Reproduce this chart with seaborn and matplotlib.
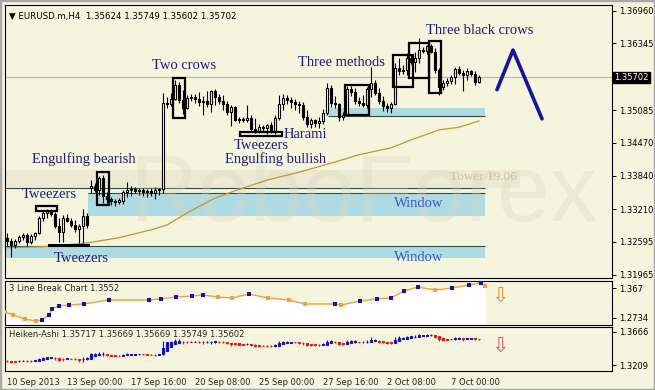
import numpy as np
import pandas as pd
import seaborn as sns
import matplotlib.pyplot as plt
import matplotlib.transforms as mtransforms
from matplotlib.patches import Rectangle

# EURUSD.m H4 bars (10 Sep 2013 12:00 -> 7 Oct 2013)
opens = [
    1.3267, 1.3261, 1.3253, 1.3261, 1.3268, 1.3272, 1.3259, 1.3270, 1.3276, 1.3304,
    1.3314, 1.3318, 1.3312, 1.3289, 1.3278, 1.3304, 1.3299, 1.3291, 1.3284, 1.3289,
    1.3308, 1.3361, 1.3365, 1.3357, 1.3380, 1.3346, 1.3340, 1.3337, 1.3335, 1.3337,
    1.3354, 1.3357, 1.3359, 1.3355, 1.3357, 1.3354, 1.3355, 1.3352, 1.3357, 1.3359,
    1.3522, 1.3520, 1.3529, 1.3556, 1.3528, 1.3512, 1.3531, 1.3533, 1.3529, 1.3524,
    1.3526, 1.3520, 1.3545, 1.3533, 1.3526, 1.3520, 1.3505, 1.3514, 1.3490, 1.3492,
    1.3490, 1.3494, 1.3473, 1.3469, 1.3476, 1.3475, 1.3480, 1.3469, 1.3494, 1.3520,
    1.3531, 1.3528, 1.3524, 1.3520, 1.3518, 1.3495, 1.3482, 1.3490, 1.3484, 1.3488,
    1.3503, 1.3550, 1.3522, 1.3520, 1.3495, 1.3499, 1.3548, 1.3543, 1.3526, 1.3522,
    1.3518, 1.3548, 1.3560, 1.3541, 1.3526, 1.3516, 1.3512, 1.3520, 1.3588, 1.3582,
    1.3584, 1.3607, 1.3600, 1.3607, 1.3622, 1.3620, 1.3630, 1.3618, 1.3584, 1.3552,
    1.3560, 1.3564, 1.3571, 1.3586, 1.3579, 1.3575, 1.3582, 1.3577, 1.35624,
]
highs = [
    1.3276, 1.3267, 1.3265, 1.3272, 1.3276, 1.3276, 1.3274, 1.3278, 1.3308, 1.3318,
    1.3321, 1.3321, 1.3316, 1.3304, 1.3310, 1.3312, 1.3304, 1.3301, 1.3293, 1.3321,
    1.3314, 1.3376, 1.3371, 1.3384, 1.3386, 1.3354, 1.3344, 1.3340, 1.3342, 1.3357,
    1.3372, 1.3365, 1.3363, 1.3361, 1.3361, 1.3359, 1.3361, 1.3363, 1.3361, 1.3541,
    1.3533, 1.3541, 1.3565, 1.3562, 1.3547, 1.3537, 1.3539, 1.3539, 1.3543, 1.3535,
    1.3545, 1.3547, 1.3548, 1.3539, 1.3537, 1.3526, 1.3518, 1.3516, 1.3495, 1.3495,
    1.3518, 1.3499, 1.3494, 1.3482, 1.3480, 1.3482, 1.3486, 1.3499, 1.3537, 1.3539,
    1.3537, 1.3533, 1.3529, 1.3526, 1.3524, 1.3509, 1.3494, 1.3492, 1.3495, 1.3511,
    1.3560, 1.3556, 1.3535, 1.3522, 1.3505, 1.3554, 1.3554, 1.3550, 1.3533, 1.3537,
    1.3552, 1.3590, 1.3565, 1.3550, 1.3535, 1.3522, 1.3524, 1.3598, 1.3607, 1.3594,
    1.3617, 1.3613, 1.3618, 1.3645, 1.3628, 1.3632, 1.3634, 1.3626, 1.3588, 1.3565,
    1.3569, 1.3575, 1.3590, 1.3592, 1.3584, 1.3588, 1.3584, 1.3582, 1.35749,
]
lows = [
    1.3251, 1.3231, 1.3248, 1.3257, 1.3263, 1.3251, 1.3255, 1.3263, 1.3274, 1.3299,
    1.3304, 1.3308, 1.3285, 1.3259, 1.3259, 1.3297, 1.3287, 1.3278, 1.3257, 1.3257,
    1.3285, 1.3352, 1.3354, 1.3348, 1.3333, 1.3333, 1.3329, 1.3327, 1.3331, 1.3331,
    1.3344, 1.3346, 1.3352, 1.3348, 1.3346, 1.3344, 1.3346, 1.3340, 1.3348, 1.3352,
    1.3512, 1.3516, 1.3528, 1.3522, 1.3501, 1.3511, 1.3526, 1.3522, 1.3516, 1.3499,
    1.3514, 1.3505, 1.3518, 1.3520, 1.3509, 1.3499, 1.3478, 1.3488, 1.3484, 1.3486,
    1.3486, 1.3469, 1.3465, 1.3465, 1.3469, 1.3463, 1.3465, 1.3463, 1.3490, 1.3509,
    1.3520, 1.3512, 1.3509, 1.3503, 1.3490, 1.3476, 1.3475, 1.3476, 1.3475, 1.3482,
    1.3499, 1.3514, 1.3512, 1.3488, 1.3490, 1.3499, 1.3535, 1.3520, 1.3516, 1.3514,
    1.3512, 1.3533, 1.3537, 1.3520, 1.3507, 1.3505, 1.3503, 1.3518, 1.3575, 1.3577,
    1.3575, 1.3596, 1.3581, 1.3598, 1.3617, 1.3615, 1.3617, 1.3579, 1.3537, 1.3547,
    1.3554, 1.3558, 1.3558, 1.3575, 1.3545, 1.3565, 1.3573, 1.3556, 1.35602,
]
closes = [
    1.3261, 1.3253, 1.3261, 1.3268, 1.3272, 1.3259, 1.3270, 1.3276, 1.3304, 1.3314,
    1.3318, 1.3312, 1.3289, 1.3278, 1.3304, 1.3299, 1.3291, 1.3284, 1.3289, 1.3308,
    1.3291, 1.3365, 1.3357, 1.3380, 1.3346, 1.3340, 1.3337, 1.3335, 1.3338, 1.3354,
    1.3357, 1.3359, 1.3355, 1.3357, 1.3354, 1.3355, 1.3352, 1.3357, 1.3359, 1.3522,
    1.3520, 1.3529, 1.3556, 1.3528, 1.3512, 1.3531, 1.3533, 1.3529, 1.3524, 1.3526,
    1.3520, 1.3545, 1.3533, 1.3526, 1.3520, 1.3505, 1.3514, 1.3490, 1.3492, 1.3490,
    1.3494, 1.3473, 1.3469, 1.3476, 1.3475, 1.3480, 1.3469, 1.3494, 1.3520, 1.3531,
    1.3528, 1.3524, 1.3520, 1.3518, 1.3495, 1.3482, 1.3490, 1.3484, 1.3488, 1.3503,
    1.3550, 1.3522, 1.3520, 1.3495, 1.3499, 1.3548, 1.3543, 1.3526, 1.3522, 1.3518,
    1.3548, 1.3560, 1.3541, 1.3526, 1.3516, 1.3512, 1.3520, 1.3588, 1.3582, 1.3584,
    1.3607, 1.3600, 1.3607, 1.3622, 1.3620, 1.3630, 1.3618, 1.3584, 1.3552, 1.3560,
    1.3564, 1.3571, 1.3586, 1.3579, 1.3575, 1.3582, 1.3577, 1.3562, 1.35702,
]

# moving average (orange line), sampled along the bars
ma_bars = [0, 9, 20, 28, 36, 40, 45, 52, 59, 65, 73, 81, 88, 96, 101, 108, 113, 118]
ma_values = [1.3248, 1.3250, 1.3257, 1.3267, 1.3282, 1.3291, 1.3314, 1.3342, 1.3361,
             1.3376, 1.3391, 1.3408, 1.3424, 1.3437, 1.3452, 1.3471, 1.3476, 1.3488]

# 3 Line Break panel
lb_bars = [-0.5, 1.5, 4.5, 7.25, 8.75, 10.5, 11.25, 13, 15.5, 19.25, 25.5, 35.5, 38.5,
           42.25, 46.25, 49, 52.75, 56.25, 60.5, 65.25, 70.5, 74.5, 82, 83.5, 88.25,
           92.5, 96, 99.25, 102.75, 107, 111.25, 115.5, 118.5, 119.5]
lb_values = [1.2911, 1.2815, 1.2685, 1.2621, 1.2653, 1.2815, 1.3008, 1.3105, 1.3137,
             1.3170, 1.3299, 1.3299, 1.3331, 1.3396, 1.3428, 1.3460, 1.3396, 1.3363,
             1.3492, 1.3363, 1.3299, 1.3170, 1.3170, 1.3137, 1.3266, 1.3331, 1.3363,
             1.3589, 1.3718, 1.3622, 1.3686, 1.3783, 1.3848, 1.3751]

tick_bars = [0, 15, 31, 47, 63, 79, 95, 111]
tick_labels = ['10 Sep 2013', '13 Sep 00:00', '17 Sep 16:00', '20 Sep 08:00',
               '25 Sep 00:00', '27 Sep 16:00', '2 Oct 08:00', '7 Oct 00:00']
price_ticks = [1.36960, 1.36345, 1.35702, 1.35085, 1.34470, 1.33840, 1.33210, 1.32595, 1.31965]
last_price = 1.35702

# hand drawn forecast
forecast_bars = [122.5, 126.5, 133.75]
forecast_prices = [1.3547, 1.3622, 1.3492]

BG = '#f5f4dc'
sns.set_theme(style='white', rc={'axes.facecolor': BG, 'figure.facecolor': BG,
                                 'axes.edgecolor': 'black', 'axes.linewidth': 0.8})
plt.rcParams['font.family'] = ['DejaVu Sans']

o, h, l, c = map(np.array, (opens, highs, lows, closes))
n = len(o)
xs = np.arange(n)

fig = plt.figure(figsize=(6.55, 3.9), dpi=100)
W = 607 / 655
ax = fig.add_axes([5 / 655, 1 - 278 / 390, W, 273 / 390])
ax2 = fig.add_axes([5 / 655, 1 - 325 / 390, W, 44 / 390], sharex=ax)
ax3 = fig.add_axes([5 / 655, 1 - 371 / 390, W, 44 / 390], sharex=ax)

ax.set_xlim(-0.5, 151.25)
ax.set_ylim(1.31908, 1.37073)
ax2.set_ylim(1.2492, 1.3912)
ax3.set_ylim(1.3126, 1.3735)

# zones and watermark (behind the candles)
ax.add_patch(Rectangle((-0.5, 1.3361), 128.7, 0.0035, color='#ecead2', lw=0, zorder=0.5))
ax.add_patch(Rectangle((20.25, 1.3308), 99.25, 0.0044, color='#aedbe3', lw=0, zorder=1))
ax.add_patch(Rectangle((-0.5, 1.3229), 120.0, 0.0022, color='#aedbe3', lw=0, zorder=1))
ax.add_patch(Rectangle((80.25, 1.3497), 39.25, 0.0015, color='#aedbe3', lw=0, zorder=1))
ax.hlines([1.3361, 1.3251], -0.5, 119.5, color='#2f4f4f', lw=0.8, zorder=1.2)
ax.hlines(1.3352, 20.25, 119.5, color='#2f4f4f', lw=0.8, zorder=1.2)
ax.hlines(1.3497, 80.25, 119.5, color='#2f4f4f', lw=0.8, zorder=1.2)
ax.axhline(last_price, color='#b8b8b8', lw=0.8, zorder=1.1)
ax.text(89, 1.3345, 'RoboForex', fontsize=68, family=['Liberation Sans', 'DejaVu Sans'],
        color='#d8d6bc', alpha=0.3, ha='center', va='center', zorder=1.5)

sns.lineplot(x=ma_bars, y=ma_values, ax=ax, color='#c8942a', lw=0.9, zorder=2)


def draw_candles(axis, o, h, l, c, up, down, edge, width, lw):
    body_lo = np.minimum(o, c)
    body_h = np.maximum(np.abs(c - o), 0.00006)
    fill = np.where(c >= o, up, down)
    edges = fill if edge is None else edge
    axis.vlines(xs, l, h, color=edges, lw=lw, zorder=3)
    axis.bar(xs, body_h, bottom=body_lo, width=width, color=fill,
             edgecolor=edges, linewidth=lw, zorder=3.1)


draw_candles(ax, o, h, l, c, 'white', 'black', 'black', 0.62, 0.8)

# pattern boxes
boxes = [(22.6, 25.6, 1.3329, 1.3391), (41.6, 44.6, 1.3494, 1.3569),
         (84.4, 90.6, 1.3499, 1.3556), (96.5, 101.5, 1.3552, 1.3613),
         (100.5, 105.5, 1.3569, 1.3635), (105.5, 108.6, 1.3541, 1.3639),
         (7.25, 12.5, 1.3318, 1.3327), (58.25, 68.75, 1.3460, 1.3467)]
for x0, x1, lo, hi in boxes:
    ax.add_patch(Rectangle((x0, lo), x1 - x0, hi - lo, fill=False, ec='black', lw=1.6, zorder=4))
ax.add_patch(Rectangle((10.25, 1.3249), 10.5, 0.0006, color='black', lw=0, zorder=4))

sns.lineplot(x=forecast_bars, y=forecast_prices, ax=ax, color='#1414a0', lw=2.6, zorder=4)

serif = ['Liberation Serif', 'DejaVu Serif']
navy = '#1c1c78'
labels = [('Two crows', 44.25, 1.3592), ('Three methods', 83.5, 1.3598),
          ('Three black crows', 118.25, 1.3660), ('Engulfing bearish', 19.25, 1.3416),
          ('Tweezers', 10.5, 1.3348), ('Tweezers', 18.5, 1.3227), ('Harami', 74.5, 1.3463),
          ('Tweezers', 63.5, 1.3441), ('Engulfing bullish', 67.25, 1.3416)]
for txt, bx, py in labels:
    ax.text(bx, py, txt, family=serif, fontsize=10.5, color=navy, ha='center', va='center', zorder=5)
for py in (1.3331, 1.3229):
    ax.text(103, py, 'Window', family=serif, fontsize=10.5, color='#3a5ad0', ha='center', va='center', zorder=5)
ax.text(119, 1.3382, 'Tower 19.06', family=serif, fontsize=9.5, color='#d6bea0', ha='center', va='center', zorder=5)

ax.text(0.006, 0.975, '\u25bc EURUSD.m,H4  1.35624 1.35749 1.35602 1.35702', transform=ax.transAxes,
        fontsize=6.2, color='black', ha='left', va='top')

# right price scale
for a in (ax, ax2, ax3):
    a.yaxis.tick_right()
    a.tick_params(axis='y', direction='out', length=3, width=0.7, labelsize=6, pad=2, colors='black')
    a.tick_params(axis='x', labelbottom=False, length=0)
    for s in a.spines.values():
        s.set_color('black')
        s.set_linewidth(0.8)
ax.set_yticks(price_ticks)
ax.set_yticklabels(['' if p == last_price else f'{p:.5f}' for p in price_ticks])
tr = mtransforms.blended_transform_factory(ax.transAxes, ax.transData)
ax.text(1.004, last_price, f'{last_price:.5f}', transform=tr, fontsize=6, color='white', va='center',
        ha='left', bbox=dict(boxstyle='square,pad=0.15', fc='black', ec='black'))

# 3 Line Break
lb = pd.DataFrame({'bar': lb_bars, 'value': lb_values})
lb['dir'] = np.where(lb['value'].diff().fillna(-1) >= 0, 'up', 'down')
ax2.fill_between(lb['bar'], lb['value'], 1.2492, color='white', lw=0, zorder=1)
sns.lineplot(data=lb, x='bar', y='value', ax=ax2, color='#f0a040', lw=1, zorder=2)
sns.scatterplot(data=lb, x='bar', y='value', hue='dir', palette={'up': '#1010c8', 'down': '#f0a040'},
                marker='s', s=10, linewidth=0, legend=False, ax=ax2, zorder=3)
ax2.set_yticks([1.367, 1.2734])
ax2.set_yticklabels(['1.367', '1.2734'])
ax2.text(0.006, 0.93, '3 Line Break Chart 1.3552', transform=ax2.transAxes, fontsize=6, va='top')
ax2.text(123.3, 1.3428, '\u21e9', fontsize=15, color='#e0903a', ha='center', va='center')

# Heiken-Ashi from the bars above
ha_close = (o + h + l + c) / 4
ha_open = np.empty(n)
ha_open[0] = (o[0] + c[0]) / 2
for i in range(1, n):
    ha_open[i] = (ha_open[i - 1] + ha_close[i - 1]) / 2
ha_high = np.maximum.reduce([h, ha_open, ha_close])
ha_low = np.minimum.reduce([l, ha_open, ha_close])
draw_candles(ax3, ha_open, ha_high, ha_low, ha_close, '#1010d0', '#f01010', None, 0.7, 0.8)
ax3.set_yticks([1.3666, 1.3209])
ax3.set_yticklabels(['1.3666', '1.3209'])
ax3.text(0.006, 0.93, 'Heiken-Ashi 1.35717 1.35669 1.35669 1.35749 1.35602', transform=ax3.transAxes,
         fontsize=6, va='top')
ax3.text(123.3, 1.3470, '\u21e9', fontsize=15, color='#e8506a', ha='center', va='center')

ax3.set_xticks(tick_bars)
ax3.set_xticklabels(tick_labels, ha='left')
ax3.tick_params(axis='x', labelbottom=True, length=3, width=0.7, direction='out', labelsize=6, pad=2)
for a in (ax, ax2, ax3):
    a.set_xlabel('')
    a.set_ylabel('')

fig.patches.append(Rectangle((0, 0), 1, 1, transform=fig.transFigure, fill=False,
                             ec='#a8a8a8', lw=2.5, zorder=10))
fig.savefig('out.png', dpi=100, facecolor=BG)
